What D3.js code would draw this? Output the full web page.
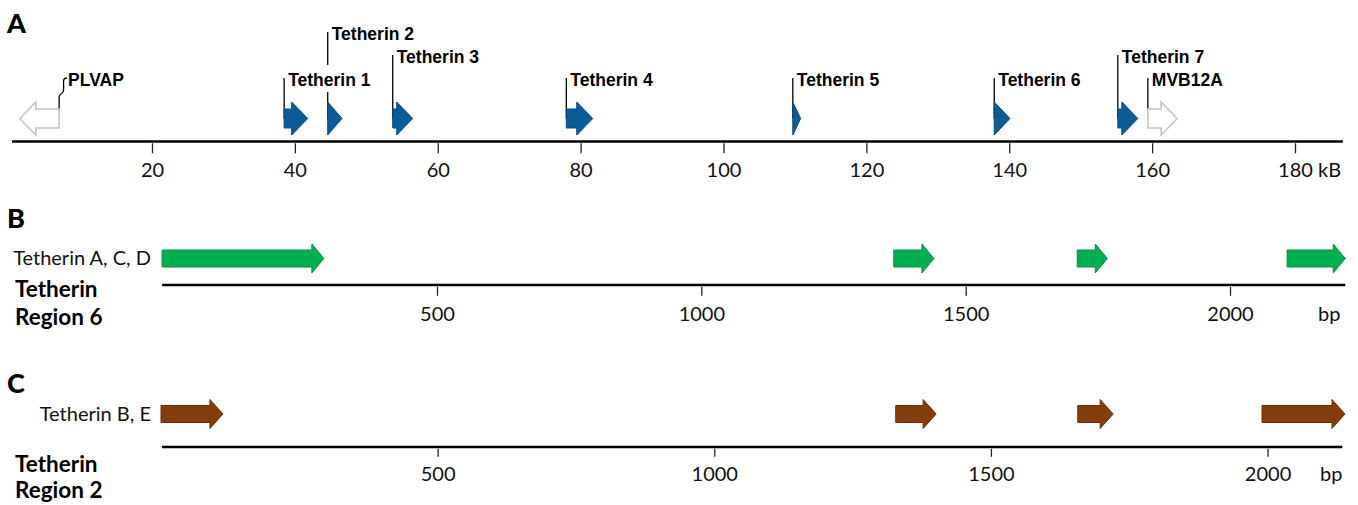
<!DOCTYPE html>
<html>
<head>
<meta charset="utf-8">
<script src="https://cdn.jsdelivr.net/npm/d3@7"></script>
<style>
  body { margin: 0; background: #fff; }
  svg { display: block; }
</style>
</head>
<body>
<svg id="fig" width="1358" height="505"></svg>
<script>
// ---- Panel A: tetherin locus overview (kB) ----
const locusTicks = [20, 40, 60, 80, 100, 120, 140, 160, 180];
const locusSpan = [0.4, 186.7];
const geneNames = ["PLVAP", "Tetherin 1", "Tetherin 2", "Tetherin 3", "Tetherin 4",
                   "Tetherin 5", "Tetherin 6", "Tetherin 7", "MVB12A"];
const geneStart = [1.5, 38.5, 44.6, 53.7, 78.0, 109.7, 137.9, 155.2, 159.4];
const geneEnd   = [7.0, 41.8, 46.6, 56.5, 81.7, 110.8, 140.1, 158.0, 163.5];
const geneStrand = [-1, 1, 1, 1, 1, 1, 1, 1, 1];
const geneIsTetherin = [false, true, true, true, true, true, true, true, false];
const labelTier = [1, 1, 3, 2, 1, 1, 1, 2, 1];

// ---- Panel B: tetherin region 6 (bp) ----
const region6Ticks = [500, 1000, 1500, 2000];
const region6Span = [-20, 2218];
const region6Start = [-20, 1364, 1711, 2108];
const region6End   = [286, 1440, 1768, 2218];

// ---- Panel C: tetherin region 2 (bp) ----
const region2Ticks = [500, 1000, 1500, 2000];
const region2Span = [0, 2140];
const region2Start = [0, 1328, 1657, 1990];
const region2End   = [112, 1401, 1721, 2140];

const svg = d3.select("#fig");
svg.append("rect").attr("width", 1358).attr("height", 505).attr("fill", "#fff");

const tickFont = "Lato, 'Open Sans', sans-serif";
const boldFont = "'Liberation Sans', Arial, sans-serif";
const tickSize = 20;

// Block arrow; dir = 1 points right, -1 points left.
function arrowPath(xa, xb, cy, bodyHalf, headHalf, headLen, dir) {
  const len = Math.abs(xb - xa);
  const h = Math.min(headLen, len);
  if (dir > 0) {
    const b = xb - h;
    return `M${xa},${cy - bodyHalf}L${b},${cy - bodyHalf}L${b},${cy - headHalf}L${xb},${cy}` +
           `L${b},${cy + headHalf}L${b},${cy + bodyHalf}L${xa},${cy + bodyHalf}Z`;
  } else {
    const b = xa + h;
    return `M${xb},${cy - bodyHalf}L${b},${cy - bodyHalf}L${b},${cy - headHalf}L${xa},${cy}` +
           `L${b},${cy + headHalf}L${b},${cy + bodyHalf}L${xb},${cy + bodyHalf}Z`;
  }
}

// Baseline with small ticks hanging below it
function drawAxis(scale, span, ticks, axisY, tickLen, labelBaseline, unit, unitX) {
  const g = svg.append("g");
  g.append("line")
    .attr("x1", scale(span[0])).attr("x2", scale(span[1]))
    .attr("y1", axisY).attr("y2", axisY)
    .attr("stroke", "#000").attr("stroke-width", 2.6);
  const ax = d3.axisBottom(scale).tickValues(ticks).tickSize(tickLen).tickPadding(0)
    .tickFormat(d3.format("d"));
  const ag = g.append("g").attr("transform", `translate(0,${axisY + 1.8})`).call(ax);
  ag.select(".domain").remove();
  ag.selectAll(".tick line").attr("stroke", "#222").attr("stroke-width", 1.3);
  ag.selectAll(".tick text")
    .attr("y", labelBaseline - axisY - 1.8).attr("dy", null)
    .attr("font-family", tickFont).attr("font-size", tickSize).attr("fill", "#111");
  g.append("text").attr("x", unitX).attr("y", labelBaseline)
    .attr("font-family", tickFont).attr("font-size", tickSize).attr("fill", "#111").text(unit);
}

function panelLetter(txt, y) {
  svg.append("text").attr("x", 7).attr("y", y)
    .attr("font-family", "Lato, sans-serif").attr("font-weight", 900).attr("font-size", 27)
    .attr("fill", "#000").text(txt);
}

function regionTitle(lines, y0, gap) {
  const t = svg.append("text").attr("font-family", tickFont).attr("font-weight", "bold")
    .attr("font-size", 22.5).attr("fill", "#000");
  lines.forEach((s, i) => t.append("tspan").attr("x", 15).attr("y", y0 + i * gap).text(s));
}

// ================= Panel A =================
const xA = d3.scaleLinear().domain([0, 180]).range([9.1, 1295]);
const cyA = 118.5;
panelLetter("A", 33);
drawAxis(xA, locusSpan, locusTicks, 141.5, 10, 177, "kB", 1318);

const tierBaseline = { 1: 86, 2: 63, 3: 40 };
const genes = geneNames.map((n, i) => ({
  name: n, s: geneStart[i], e: geneEnd[i], strand: geneStrand[i],
  tet: geneIsTetherin[i], tier: labelTier[i]
}));

const leadG = svg.append("g");
const labelG = svg.append("g");
const geneG = svg.append("g");

genes.forEach(d => {
  const base = tierBaseline[d.tier];
  let lx, tx;
  if (d.strand > 0) {
    lx = xA(d.s);
    tx = lx + 4;
    leadG.append("line").attr("x1", lx).attr("x2", lx)
      .attr("y1", base - 8).attr("y2", cyA)
      .attr("stroke", "#000").attr("stroke-width", 1.3);
  } else {
    lx = xA(d.e);
    tx = lx + 9;
    const top = base - 8;
    leadG.append("path")
      .attr("d", `M${lx},${cyA - 9}V${cyA - 20}Q${lx},${cyA - 24} ${lx + 2.5},${cyA - 25}` +
                 `Q${lx + 4.5},${cyA - 26} ${lx + 4.5},${cyA - 29}V${top + 3}Q${lx + 4.5},${top} ${lx + 8},${top}`)
      .attr("fill", "none").attr("stroke", "#000").attr("stroke-width", 1.3);
  }
  const t = labelG.append("text").attr("x", tx).attr("y", base)
    .attr("font-family", boldFont).attr("font-weight", "bold").attr("font-size", 17.5)
    .attr("fill", "#000").text(d.name);
  const bb = t.node().getBBox();
  labelG.insert("rect", () => t.node())
    .attr("x", bb.x - 1).attr("y", base - 21).attr("width", bb.width + 3).attr("height", 27)
    .attr("fill", "#fff");
});

geneG.selectAll("path").data(genes).join("path")
  .attr("d", d => arrowPath(xA(d.s), xA(d.e), cyA, 9.5, 16.5, 16, d.strand))
  .attr("fill", d => d.tet ? "#0b5c96" : "#fff")
  .attr("stroke", d => d.tet ? "#084a7a" : "#c4c4c4")
  .attr("stroke-width", d => d.tet ? 1 : 1.6)
  .attr("stroke-linejoin", "miter");

// ================= Panel B =================
const xB = d3.scaleLinear().domain([500, 2000]).range([437, 1230]);
const cyB = 258.5;
panelLetter("B", 228);
drawAxis(xB, region6Span, region6Ticks, 285, 9, 321, "bp", 1318);
svg.append("text").attr("x", 151).attr("y", 265).attr("text-anchor", "end")
  .attr("font-family", tickFont).attr("font-size", tickSize).attr("fill", "#111")
  .text("Tetherin A, C, D");
regionTitle(["Tetherin", "Region 6"], 297, 28);
svg.append("g").selectAll("path").data(region6Start).join("path")
  .attr("d", (d, i) => arrowPath(xB(d), xB(region6End[i]), cyB, 8.5, 14.5, 12, 1))
  .attr("fill", "#00b050").attr("stroke", "#0d8c45").attr("stroke-width", 1);

// ================= Panel C =================
const xC = d3.scaleLinear().domain(region2Span).range([161, 1345]);
const cyC = 414;
panelLetter("C", 393);
drawAxis(xC, [region2Span[0] + 1.8, region2Span[1] - 5], region2Ticks, 447, 8, 481, "bp", 1320);
svg.append("text").attr("x", 151).attr("y", 421).attr("text-anchor", "end")
  .attr("font-family", tickFont).attr("font-size", tickSize).attr("fill", "#111")
  .text("Tetherin B, E");
regionTitle(["Tetherin", "Region 2"], 472, 26);
svg.append("g").selectAll("path").data(region2Start).join("path")
  .attr("d", (d, i) => arrowPath(xC(d), xC(region2End[i]), cyC, 8.5, 14.5, 13, 1))
  .attr("fill", "#843c0c").attr("stroke", "#6a2f09").attr("stroke-width", 1);
</script>
</body>
</html>
